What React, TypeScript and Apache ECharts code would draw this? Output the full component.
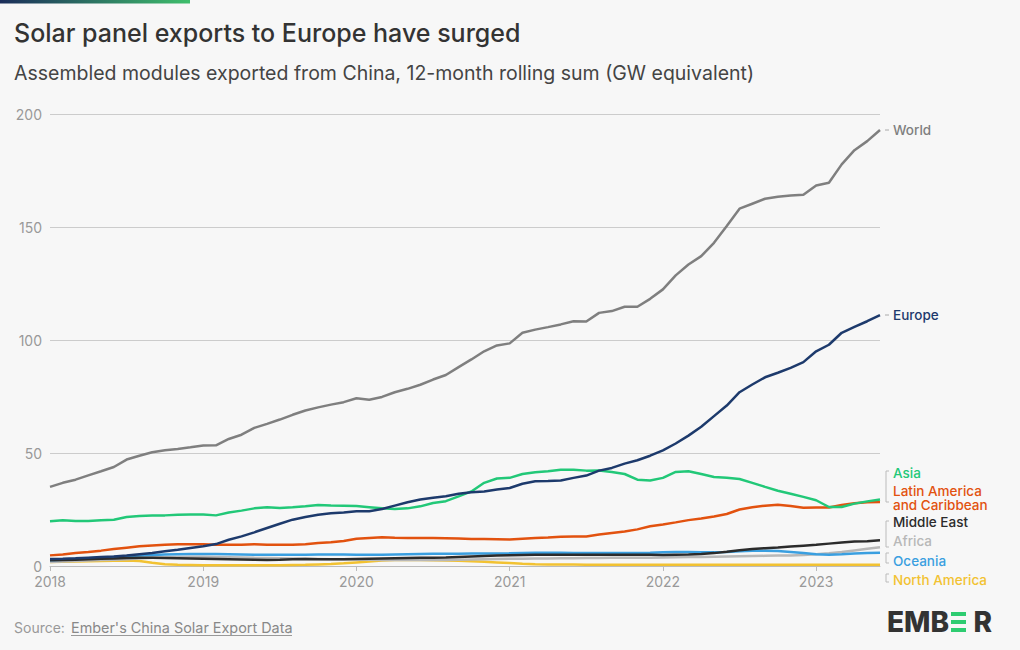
import React, { useEffect, useRef } from "react";
import * as echarts from "echarts";

const years = [2018, 2019, 2020, 2021, 2022, 2023];
const monthsInLastYear = 6;
const categories: string[] = [];
years.forEach((y) => {
  const n = y === 2023 ? monthsInLastYear : 12;
  for (let m = 1; m <= n; m++) categories.push(`${y}-${m < 10 ? "0" + m : m}`);
});

const yTicks = [0, 50, 100, 150, 200];

const world = [35.0, 36.8, 38.2, 40.1, 41.9, 43.8, 47.1, 48.8, 50.3, 51.2, 51.8, 52.5, 53.3, 53.4, 56.2, 58.1, 61.1, 62.9, 64.8, 66.9, 68.8, 70.2, 71.4, 72.5, 74.2, 73.6, 74.8, 76.9, 78.4, 80.2, 82.5, 84.5, 88.0, 91.4, 95.0, 97.6, 98.5, 103.2, 104.6, 105.7, 106.9, 108.3, 108.2, 112.0, 112.8, 114.7, 114.7, 118.2, 122.4, 128.6, 133.4, 137.1, 143.0, 150.4, 158.1, 160.3, 162.5, 163.4, 163.9, 164.3, 168.4, 169.6, 177.7, 184.0, 188.0, 192.9];
const europe = [3.1, 3.2, 3.4, 3.7, 4.0, 4.2, 4.6, 5.2, 5.8, 6.5, 7.2, 8.0, 8.7, 9.7, 11.6, 13.1, 14.9, 16.8, 18.7, 20.5, 21.7, 22.7, 23.3, 23.7, 24.2, 24.2, 25.2, 26.7, 28.2, 29.4, 30.2, 30.9, 32.0, 32.6, 33.0, 33.8, 34.5, 36.4, 37.5, 37.6, 37.8, 39.0, 40.0, 42.2, 43.4, 45.3, 46.8, 48.8, 51.2, 54.2, 57.7, 61.6, 66.3, 71.0, 76.9, 80.3, 83.5, 85.5, 87.7, 90.2, 95.0, 97.9, 103.2, 105.8, 108.3, 111.0];
const asia = [19.8, 20.2, 19.9, 19.9, 20.2, 20.5, 21.7, 22.1, 22.3, 22.4, 22.7, 22.8, 22.8, 22.4, 23.7, 24.5, 25.5, 26.0, 25.7, 26.0, 26.4, 27.0, 26.8, 26.7, 26.5, 26.0, 25.5, 25.2, 25.5, 26.4, 27.9, 28.7, 30.8, 33.0, 36.8, 38.7, 39.0, 40.7, 41.5, 41.9, 42.6, 42.6, 42.2, 42.3, 41.6, 40.7, 38.2, 37.8, 39.0, 41.6, 41.9, 40.7, 39.4, 39.1, 38.5, 36.8, 35.0, 33.3, 32.0, 30.6, 29.1, 26.1, 26.1, 27.6, 28.6, 29.4];
const latinAmerica = [4.7, 5.1, 5.8, 6.2, 6.8, 7.5, 8.1, 8.7, 9.1, 9.4, 9.6, 9.6, 9.6, 9.4, 9.4, 9.4, 9.6, 9.4, 9.4, 9.4, 9.6, 10.2, 10.5, 11.1, 12.1, 12.4, 12.7, 12.5, 12.4, 12.4, 12.4, 12.3, 12.2, 12.0, 11.9, 11.8, 11.7, 12.1, 12.4, 12.6, 12.9, 13.0, 13.1, 13.9, 14.6, 15.3, 16.2, 17.6, 18.4, 19.3, 20.3, 21.0, 21.9, 23.0, 25.0, 26.0, 26.7, 27.1, 26.5, 25.8, 25.9, 25.9, 27.0, 27.8, 28.2, 28.3];
const middleEast = [2.5, 2.6, 2.8, 3.0, 3.2, 3.3, 3.5, 3.6, 3.6, 3.5, 3.4, 3.3, 3.2, 3.1, 3.0, 2.9, 2.8, 2.7, 2.8, 3.0, 3.1, 3.0, 3.0, 3.0, 3.1, 3.2, 3.3, 3.4, 3.5, 3.6, 3.7, 3.8, 4.0, 4.2, 4.4, 4.6, 4.8, 4.9, 5.0, 5.0, 5.0, 5.0, 5.0, 5.0, 5.0, 5.0, 5.0, 5.0, 4.9, 5.0, 5.1, 5.3, 5.7, 6.3, 7.0, 7.5, 7.9, 8.2, 8.6, 9.0, 9.4, 9.9, 10.4, 10.8, 11.0, 11.4];
const africa = [1.8, 2.0, 2.2, 2.4, 2.6, 2.8, 3.0, 3.3, 3.6, 3.8, 4.0, 4.1, 4.1, 4.0, 3.9, 3.8, 3.6, 3.5, 3.4, 3.3, 3.2, 3.1, 3.0, 3.0, 2.9, 2.8, 2.7, 2.7, 2.6, 2.6, 2.6, 2.7, 2.8, 2.9, 3.0, 3.1, 3.2, 3.2, 3.3, 3.3, 3.4, 3.4, 3.5, 3.5, 3.6, 3.6, 3.7, 3.7, 3.8, 3.9, 4.0, 4.0, 4.1, 4.2, 4.3, 4.4, 4.5, 4.6, 4.7, 4.9, 5.2, 5.6, 6.2, 6.9, 7.6, 8.3];
const oceania = [2.5, 2.8, 3.1, 3.4, 3.7, 4.0, 4.3, 4.6, 4.9, 5.1, 5.2, 5.3, 5.3, 5.3, 5.2, 5.1, 5.0, 5.0, 5.0, 5.0, 5.0, 5.1, 5.1, 5.1, 5.0, 5.0, 5.0, 5.1, 5.2, 5.3, 5.4, 5.4, 5.4, 5.5, 5.5, 5.5, 5.6, 5.8, 5.9, 5.9, 5.9, 5.8, 5.8, 5.7, 5.7, 5.7, 5.8, 5.9, 6.1, 6.2, 6.2, 6.1, 6.1, 6.2, 6.5, 6.7, 6.7, 6.6, 6.2, 5.7, 5.2, 5.0, 5.2, 5.5, 5.7, 5.9];
const northAmerica = [1.8, 1.9, 2.0, 2.1, 2.2, 2.3, 2.4, 2.2, 1.4, 0.8, 0.5, 0.4, 0.3, 0.3, 0.3, 0.3, 0.3, 0.3, 0.3, 0.4, 0.5, 0.7, 0.9, 1.2, 1.6, 2.0, 2.4, 2.6, 2.7, 2.6, 2.5, 2.4, 2.3, 2.1, 1.9, 1.6, 1.3, 1.0, 0.8, 0.7, 0.7, 0.7, 0.6, 0.6, 0.6, 0.6, 0.6, 0.6, 0.6, 0.5, 0.5, 0.5, 0.5, 0.5, 0.5, 0.5, 0.5, 0.5, 0.5, 0.5, 0.5, 0.5, 0.5, 0.5, 0.5, 0.5];

const seriesDefs = [
  { name: "North America", data: northAmerica, color: "#f2c232" },
  { name: "Africa", data: africa, color: "#b8b8b8" },
  { name: "Oceania", data: oceania, color: "#3a9fe0" },
  { name: "Middle East", data: middleEast, color: "#2b2b2b" },
  { name: "Latin America and Caribbean", data: latinAmerica, color: "#e2520f" },
  { name: "Asia", data: asia, color: "#22c878" },
  { name: "Europe", data: europe, color: "#1d3a6c" },
  { name: "World", data: world, color: "#7f7f7f" },
];

const FONT = "Inter, 'Noto Sans', sans-serif";

export default function App() {
  const ref = useRef<HTMLDivElement>(null);
  useEffect(() => {
    if (!ref.current) return;
    const chart = echarts.init(ref.current, undefined, { renderer: "svg" });
    const label = (text: string, x: number, y: number, color: string) => ({
      type: "text",
      x,
      y,
      style: { text, fill: color, font: `500 13.5px ${FONT}`, verticalAlign: "middle" },
    });
    const bracket = (y1: number, y2: number) => ({
      type: "polyline",
      shape: { points: [[889, y1], [886, y1], [886, y2], [889, y2]] },
      style: { stroke: "#bbbbbb", lineWidth: 1, fill: "none" },
    });
    const dash = (y: number) => ({
      type: "line",
      shape: { x1: 885, y1: y, x2: 889, y2: y },
      style: { stroke: "#aaaaaa", lineWidth: 1 },
    });
    chart.setOption({
      animation: false,
      backgroundColor: "#f7f7f7",
      grid: { left: 50, right: 140, top: 114, bottom: 84, containLabel: false },
      xAxis: {
        type: "category",
        data: categories,
        boundaryGap: false,
        axisLine: { lineStyle: { color: "#bbbbbb", width: 1 } },
        axisTick: {
          interval: (i: number) => i % 12 === 0,
          length: 5,
          lineStyle: { color: "#bbbbbb" },
        },
        axisLabel: {
          interval: (i: number) => i % 12 === 0,
          formatter: (v: string) => v.slice(0, 4),
          color: "#999999",
          fontFamily: FONT,
          fontSize: 14,
          margin: 8,
        },
        splitLine: { show: false },
      },
      yAxis: {
        type: "value",
        min: yTicks[0],
        max: yTicks[yTicks.length - 1],
        interval: 50,
        axisLine: { show: false },
        axisTick: { show: false },
        axisLabel: { color: "#999999", fontFamily: FONT, fontSize: 14, margin: 8 },
        splitLine: { lineStyle: { color: "#cccccc", width: 1 } },
      },
      series: seriesDefs.map((s) => ({
        name: s.name,
        type: "line",
        data: s.data,
        symbol: "none",
        lineStyle: { color: s.color, width: 2.5 },
        itemStyle: { color: s.color },
        z: 3,
      })),
      graphic: [
        {
          type: "rect",
          shape: { x: 0, y: 0, width: 190, height: 3.5 },
          style: {
            fill: new echarts.graphic.LinearGradient(0, 0, 1, 0, [
              { offset: 0, color: "#1b2d5a" },
              { offset: 1, color: "#3fbf6c" },
            ]),
          },
        },
        {
          type: "text",
          x: 14,
          y: 33,
          style: { text: "Solar panel exports to Europe have surged", fill: "#333333", font: `500 25px ${FONT}`, verticalAlign: "middle" },
        },
        {
          type: "text",
          x: 14,
          y: 73,
          style: { text: "Assembled modules exported from China, 12-month rolling sum (GW equivalent)", fill: "#444444", font: `400 19.5px ${FONT}`, verticalAlign: "middle" },
        },
        dash(130),
        label("World", 893, 130, "#7f7f7f"),
        dash(315),
        label("Europe", 893, 315, "#1d3a6c"),
        bracket(471, 502),
        label("Asia", 893, 473, "#22c878"),
        label("Latin America", 893, 491, "#e2520f"),
        label("and Caribbean", 893, 505, "#e2520f"),
        bracket(521, 547),
        label("Middle East", 893, 522, "#2b2b2b"),
        label("Africa", 893, 541, "#b8b8b8"),
        bracket(553, 563),
        label("Oceania", 893, 561, "#3a9fe0"),
        bracket(574, 582),
        label("North America", 893, 580, "#f2c232"),
        {
          type: "text",
          x: 14,
          y: 627,
          style: { text: "Source:", fill: "#999999", font: `400 14px ${FONT}`, verticalAlign: "middle" },
        },
        {
          type: "text",
          x: 71,
          y: 627,
          style: { text: "Ember's China Solar Export Data", fill: "#888888", font: `400 14.4px ${FONT}`, verticalAlign: "middle" },
        },
        {
          type: "line",
          shape: { x1: 71, y1: 635.5, x2: 292, y2: 635.5 },
          style: { stroke: "#999999", lineWidth: 1 },
        },
        {
          type: "text",
          x: 887,
          y: 622,
          style: { text: "EMB", fill: "#333333", font: `800 28px ${FONT}`, verticalAlign: "middle" },
        },
        { type: "rect", shape: { x: 951, y: 612, width: 15, height: 4 }, style: { fill: "#2ecc71" } },
        { type: "rect", shape: { x: 951, y: 620, width: 15, height: 4 }, style: { fill: "#2ecc71" } },
        { type: "rect", shape: { x: 951, y: 628, width: 15, height: 4 }, style: { fill: "#2ecc71" } },
        {
          type: "text",
          x: 992,
          y: 622,
          style: { text: "R", fill: "#333333", font: `800 28px ${FONT}`, verticalAlign: "middle", align: "right" },
        },
      ],
    });
    return () => chart.dispose();
  }, []);
  return (
    <div style={{ position: "fixed", left: 0, top: 0, width: 1020, height: 650, background: "#f7f7f7" }}>
      <div ref={ref} style={{ width: 1020, height: 650 }} />
    </div>
  );
}
